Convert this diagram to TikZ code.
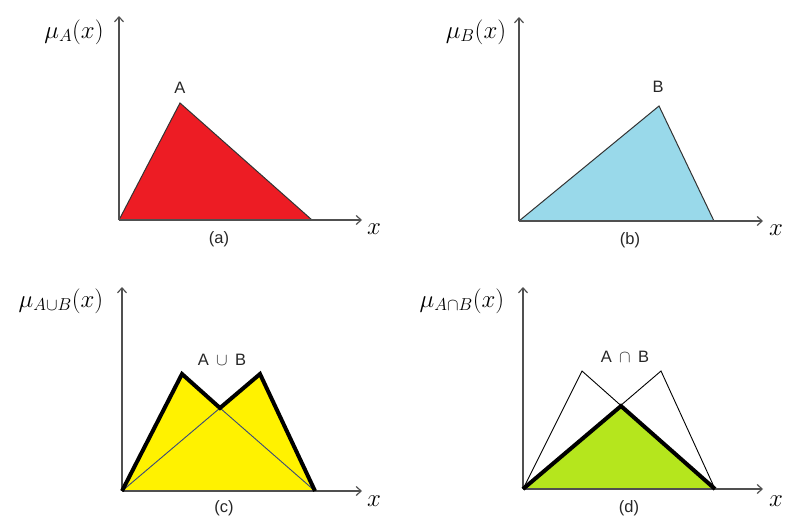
\documentclass[tikz,border=0pt]{standalone}
\usepackage{fontspec}
\setsansfont{Liberation Sans}
\usetikzlibrary{arrows.meta}
\definecolor{axisgray}{HTML}{505050}
\definecolor{redfill}{HTML}{ED1C24}
\definecolor{bluefill}{HTML}{99D9EA}
\definecolor{yellowfill}{HTML}{FFF200}
\definecolor{greenfill}{HTML}{B5E61D}
\definecolor{thinblue}{HTML}{3A4A7A}
\tikzset{
  axis/.style={draw=axisgray, line width=1.2pt, -{Straight Barb[length=5pt,width=9pt]}},
  edge/.style={draw=black!80, line width=1pt, line join=miter},
  thickedge/.style={draw=black, line width=4pt, line join=miter},
  thinedge/.style={draw=black, line width=0.9pt},
  mulab/.style={inner sep=0pt, font=\fontsize{26}{30}\selectfont},
  xlab/.style={inner sep=0pt, font=\fontsize{27}{30}\selectfont},
  setlab/.style={inner sep=0pt, font=\sffamily\fontsize{16.5}{19}\selectfont, text=black!85},
  caplab/.style={inner sep=0pt, font=\sffamily\fontsize{16.5}{19}\selectfont, text=black!85}
}
\begin{document}
\begin{tikzpicture}[x=1pt,y=-1pt]
\useasboundingbox (0,0) rectangle (787,522);
% ---------- (a) ----------
\coordinate (oa) at (119,220);
\coordinate (pa) at (180,103);
\coordinate (ra) at (312,220);
\coordinate (ya) at (119,16);
\coordinate (xa) at (362,220);
\fill[redfill] (oa) -- (pa) -- (ra) -- cycle;
\draw[edge] (oa) -- (pa) -- (ra);
\draw[axis] (oa) -- (ya);
\draw[axis] (oa) -- (xa);
\node[setlab] (la) at (180,88) {A};
\node[mulab] (mua) at (74,32) {$\mu_{A}(x)$};
\node[xlab] (xla) at (374,229) {$x$};
\node[caplab] (ca) at (219,239) {(a)};
% ---------- (b) ----------
\coordinate (ob) at (519,221);
\coordinate (pb) at (659,106);
\coordinate (rb) at (714,221);
\coordinate (yb) at (519,17);
\coordinate (xb) at (763,221);
\fill[bluefill] (ob) -- (pb) -- (rb) -- cycle;
\draw[edge] (ob) -- (pb) -- (rb);
\draw[axis] (ob) -- (yb);
\draw[axis] (ob) -- (xb);
\node[setlab] (lb) at (658,87) {B};
\node[mulab] (mub) at (476,32) {$\mu_{B}(x)$};
\node[xlab] (xlb) at (776,230) {$x$};
\node[caplab] (cb) at (630,240) {(b)};
% ---------- (c) ----------
\coordinate (oc) at (122,491);
\coordinate (pca) at (182,374);
\coordinate (ic) at (220,408);
\coordinate (pcb) at (260,374);
\coordinate (rc) at (315,491);
\coordinate (yc) at (122,287);
\coordinate (xc) at (362,491);
\fill[yellowfill] (oc) -- (pca) -- (ic) -- (pcb) -- (rc) -- cycle;
\draw[thinedge, draw=thinblue] (oc) -- (ic) -- (rc);
\draw[axis] (oc) -- (yc);
\draw[axis] (oc) -- (xc);
\draw[thickedge] (oc) -- (pca) -- (ic) -- (pcb) -- (rc);
\node[setlab] (lc) at (222,360) {A \,$\cup$\, B};
\node[mulab] (muc) at (61,301) {$\mu_{A\cup B}(x)$};
\node[xlab] (xlc) at (374,501) {$x$};
\node[caplab] (cc) at (224,508) {(c)};
% ---------- (d) ----------
\coordinate (od) at (523,489);
\coordinate (pda) at (582,371);
\coordinate (id) at (621,406);
\coordinate (pdb) at (661,371);
\coordinate (rd) at (715,489);
\coordinate (yd) at (523,287);
\coordinate (xd) at (763,489);
\fill[greenfill] (od) -- (id) -- (rd) -- cycle;
\draw[thinedge] (od) -- (pda) -- (rd);
\draw[thinedge] (od) -- (pdb) -- (rd);
\draw[axis] (od) -- (yd);
\draw[axis] (od) -- (xd);
\draw[thickedge] (od) -- (id) -- (rd);
\node[setlab] (ld) at (625,357) {A \,$\cap$\, B};
\node[mulab] (mud) at (462,301) {$\mu_{A\cap B}(x)$};
\node[xlab] (xld) at (776,501) {$x$};
\node[caplab] (cd) at (629,508) {(d)};
\end{tikzpicture}
\end{document}
